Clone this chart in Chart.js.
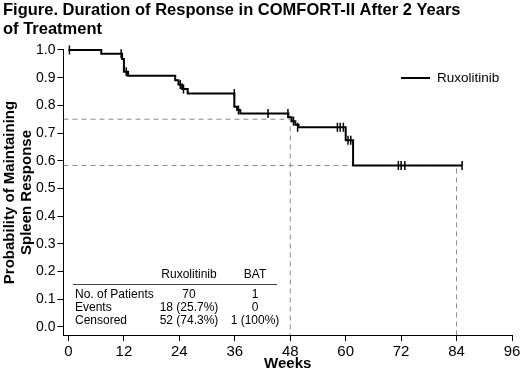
<!DOCTYPE html>
<html>
<head>
<meta charset="utf-8">
<script src="https://cdn.jsdelivr.net/npm/chart.js@4.4.1/dist/chart.umd.min.js"></script>
<style>
body { margin: 0; background: #fff; }
#wrap { width: 520px; height: 375px; }
</style>
</head>
<body>
<div id="wrap"><canvas id="km" width="520" height="375"></canvas></div>
<script>
// Kaplan-Meier steps (week of event, probability after it)
const kmWeeks = [0, 7.1, 11.6, 12.0, 12.9, 23.1, 23.8, 24.6, 25.8, 35.9, 36.5, 37.2, 47.6, 48.3, 49.1, 49.8, 60.0, 61.6, 85.2];
const kmProb  = [1.0, 0.986, 0.967, 0.921, 0.907, 0.891, 0.875, 0.859, 0.843, 0.795, 0.783, 0.771, 0.757, 0.743, 0.730, 0.721, 0.674, 0.583, 0.583];

// censored patients
const censorWeeks = [0.2, 11.4, 12.5, 24.2, 24.9, 35.9, 36.8, 43.2, 47.5, 48.7, 49.6, 58.2, 58.8, 59.5, 60.5, 61.1, 71.4, 72.0, 72.8, 85.2];
const censorProb  = [1.0, 0.986, 0.921, 0.875, 0.859, 0.843, 0.783, 0.771, 0.771, 0.743, 0.721, 0.721, 0.721, 0.721, 0.674, 0.674, 0.583, 0.583, 0.583, 0.583];

// dashed reference lines
const refWeeks = [48, 84];
const refProb = [0.75, 0.583];

const xTicks = [0, 12, 24, 36, 48, 60, 72, 84, 96];
const yTicks = [0, 0.1, 0.2, 0.3, 0.4, 0.5, 0.6, 0.7, 0.8, 0.9, 1.0];

const tableHead = ['Ruxolitinib', 'BAT'];
const tableLabels = ['No. of Patients', 'Events', 'Censored'];
const tableRux = ['70', '18 (25.7%)', '52 (74.3%)'];
const tableBat = ['1', '0', '1 (100%)'];

const seriesName = 'Ruxolitinib';

const FONT = '"Liberation Sans", Arial, sans-serif';
const X_MIN = -1.08, Y_MIN = -0.029;

Chart.defaults.font.family = FONT;
Chart.defaults.color = '#000';

function toPoints(xs, ys) {
    return xs.map(function (x, i) { return {x: x, y: ys[i]}; });
}

// across from the y axis to the week, then down to the x axis
function guide(week, prob) {
    return [{x: X_MIN, y: prob}, {x: week, y: prob}, {x: week, y: Y_MIN}];
}

// legend and the little summary table inside the plot
const extras = {
    id: 'extras',
    afterDatasetsDraw(chart) {
        const ctx = chart.ctx;
        ctx.save();
        ctx.strokeStyle = '#000';
        ctx.fillStyle = '#000';

        // legend
        ctx.lineWidth = 2;
        ctx.beginPath();
        ctx.moveTo(401, 78);
        ctx.lineTo(430, 78);
        ctx.stroke();
        ctx.font = '13.5px ' + FONT;
        ctx.textBaseline = 'middle';
        ctx.textAlign = 'left';
        ctx.fillText(seriesName, 437, 78);

        // table
        ctx.font = '12px ' + FONT;
        ctx.textAlign = 'center';
        ctx.fillText(tableHead[0], 189, 275);
        ctx.fillText(tableHead[1], 255, 275);
        ctx.lineWidth = 1;
        ctx.strokeStyle = '#444';
        ctx.beginPath();
        ctx.moveTo(73, 284.5);
        ctx.lineTo(277, 284.5);
        ctx.stroke();
        for (let i = 0; i < tableLabels.length; i++) {
            const y = 295 + i * 12.8;
            ctx.textAlign = 'left';
            ctx.fillText(tableLabels[i], 75, y);
            ctx.textAlign = 'center';
            ctx.fillText(tableRux[i], 189, y);
            ctx.fillText(tableBat[i], 255, y);
        }
        ctx.restore();
    }
};

const datasets = [{
    label: seriesName,
    data: toPoints(kmWeeks, kmProb),
    stepped: true,
    borderColor: '#000',
    borderWidth: 2,
    pointRadius: 0,
    fill: false,
    clip: false
}, {
    label: 'Censored',
    data: toPoints(censorWeeks, censorProb),
    showLine: false,
    pointStyle: 'line',
    rotation: 90,
    pointRadius: 4.5,
    borderColor: '#000',
    borderWidth: 1.5,
    clip: false
}];

for (let i = 0; i < refWeeks.length; i++) {
    datasets.push({
        label: 'ref' + i,
        data: guide(refWeeks[i], refProb[i]),
        borderColor: '#8a8a8a',
        borderWidth: 1,
        borderDash: [5, 4],
        pointRadius: 0,
        fill: false
    });
}

const config = {
    type: 'line',
    data: {datasets: datasets},
    options: {
        responsive: false,
        animation: false,
        devicePixelRatio: 1,
        layout: {padding: {left: 3, right: 8, top: 0, bottom: 0}},
        plugins: {
            legend: {display: false},
            tooltip: {enabled: false},
            title: {
                display: true,
                text: ['Figure. Duration of Response in COMFORT-II After 2 Years', 'of Treatment'],
                align: 'start',
                color: '#000',
                font: {size: 16.5, weight: 'bold', lineHeight: 1.15},
                padding: {top: 0.5, bottom: 11.5}
            }
        },
        scales: {
            x: {
                type: 'linear',
                min: X_MIN,
                max: 96,
                afterBuildTicks: function (s) { s.ticks = xTicks.map(function (v) { return {value: v}; }); },
                afterFit: function (s) { s.height = 40; s.paddingLeft = 0; s.paddingRight = 0; },
                grid: {drawOnChartArea: false, drawTicks: true, tickLength: 6, color: '#000'},
                border: {display: true, color: '#000', width: 1},
                ticks: {font: {size: 15}, color: '#000', padding: 2, maxRotation: 0, autoSkip: false},
                title: {display: true, text: 'Weeks', color: '#000', font: {size: 15, weight: 'bold'}, padding: {top: 0, bottom: 2}}
            },
            y: {
                type: 'linear',
                min: Y_MIN,
                max: 1,
                afterBuildTicks: function (s) { s.ticks = yTicks.map(function (v) { return {value: v}; }); },
                afterFit: function (s) { s.width = 60.5; s.paddingTop = 0; s.paddingBottom = 0; },
                grid: {drawOnChartArea: false, drawTicks: true, tickLength: 6, color: '#000'},
                border: {display: true, color: '#000', width: 1},
                ticks: {font: {size: 14}, color: '#000', padding: 2, callback: function (v) { return v.toFixed(1); }},
                title: {
                    display: true,
                    text: ['Probability of Maintaining', 'Spleen Response'],
                    color: '#000',
                    font: {size: 15, weight: 'bold', lineHeight: 1.1},
                    padding: {top: -1, bottom: 0}
                }
            }
        }
    },
    plugins: [extras]
};

new Chart(document.getElementById('km'), config);
</script>
</body>
</html>
